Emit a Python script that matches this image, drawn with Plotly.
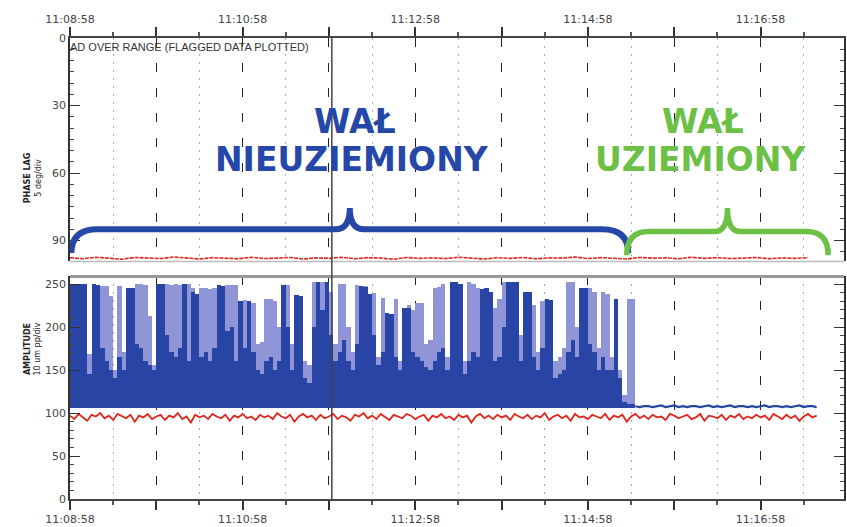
import plotly.graph_objects as go

# ---------------- data ----------------
tick_label_secs = [0, 120, 240, 360, 480]
tick_labels = ["11:08:58", "11:10:58", "11:12:58", "11:14:58", "11:16:58"]

SLOT_S = 3          # amplitude envelope sample spacing (s)
AMP_FLOOR = 105     # lower edge of the filled amplitude envelope

# dark (dense) part of the ungrounded-shaft amplitude, per 3 s slot
amp_dark = [
    250, 250, 250, 250, 145, 250, 248, 175, 160, 150, 140, 165, 150, 245, 245, 180, 175, 160, 155, 150,
    250, 250, 190, 170, 165, 175, 250, 160, 240, 238, 165, 170, 160, 175, 248, 247, 195, 200, 160, 230,
    175, 230, 170, 150, 145, 160, 165, 150, 160, 248, 200, 150, 237, 236, 140, 135, 200, 252, 220, 252,
    190, 160, 170, 185, 160, 150, 180, 247, 246, 238, 190, 155, 170, 216, 215, 165, 150, 222, 222, 170,
    165, 160, 153, 150, 160, 170, 175, 150, 252, 252, 250, 145, 160, 170, 165, 244, 245, 240, 160, 165,
    200, 252, 252, 252, 160, 240, 240, 165, 150, 175, 232, 231, 140, 145, 150, 170, 185, 165, 245, 245,
    180, 170, 150, 165, 150, 150, 232, 140, 112, 110, 110,
]
# lighter (sparser) peaks of the same signal
amp_light = [
    250, 250, 250, 250, 168, 250, 248, 247, 247, 236, 150, 247, 170, 245, 245, 250, 250, 248, 212, 155,
    250, 250, 250, 248, 250, 248, 250, 250, 245, 238, 245, 245, 244, 245, 248, 247, 248, 248, 248, 230,
    231, 230, 228, 180, 182, 232, 232, 230, 200, 248, 248, 180, 237, 236, 160, 155, 252, 252, 252, 252,
    240, 180, 250, 250, 200, 170, 248, 247, 247, 238, 239, 165, 233, 216, 215, 232, 160, 222, 225, 220,
    228, 228, 180, 185, 245, 246, 250, 165, 252, 252, 250, 160, 252, 250, 245, 244, 245, 240, 222, 232,
    252, 252, 252, 252, 190, 240, 240, 225, 170, 230, 232, 231, 160, 165, 175, 252, 252, 200, 245, 245,
    245, 240, 175, 240, 238, 165, 232, 150, 120, 232, 232,
]
# amplitude after the shaft was grounded (3 s spacing, continues after envelope)
amp_grounded = [
    108, 107, 108, 108, 107, 108, 109, 107, 108, 109, 107, 108, 107, 108, 108, 107, 108, 109, 107, 108,
    107, 108, 109, 107, 108, 108, 107, 108, 107, 108, 109, 107, 108, 108, 107, 108, 107, 108, 109, 107,
    108, 108, 107,
]
# red amplitude trace (3 s spacing)
amp_red = [
    97, 93, 99, 95, 91, 98, 96, 100, 94, 97, 92, 99, 96, 94, 98, 90, 97, 95, 99, 93,
    96, 98, 92, 97, 95, 100, 93, 96, 89, 98, 95, 97, 93, 99, 96, 94, 98, 91, 97, 95,
    99, 94, 96, 92, 98, 95, 97, 93, 100, 96, 94, 98, 90, 96, 99, 95, 97, 92, 98, 94,
    96, 99, 93, 97, 95, 91, 98, 96, 100, 94, 97, 93, 99, 95, 92, 98, 96, 94, 99, 97,
    93, 96, 98, 91, 97, 95, 99, 94, 96, 92, 98, 95, 97, 89, 96, 99, 94, 97, 93, 98,
    95, 97, 92, 99, 96, 94, 98, 93, 97, 95, 100, 92, 96, 98, 94, 97, 91, 99, 95, 96,
    93, 98, 96, 94, 99, 92, 97, 95, 98, 90, 96, 99, 94, 97, 93, 98, 95, 96, 92, 99,
    97, 94, 96, 98, 93, 95, 99, 91, 97, 96, 94, 98, 92, 97, 95, 99, 93, 96, 94, 98,
    95, 97, 92, 99, 96, 93, 98, 94, 97, 91, 96, 99, 95, 97,
]
# red phase-lag trace (9 s spacing)
PHASE_STEP_S = 9
phase_red = [
    97.6, 98.1, 97.4, 97.9, 98.3, 97.5, 97.8, 98.0, 97.3, 97.9, 98.2, 97.6, 97.7, 98.1, 97.4,
    98.0, 97.8, 97.5, 98.2, 97.7, 97.9, 97.4, 98.1, 97.6, 97.8, 98.3, 97.5, 97.9, 97.7, 98.0,
    97.4, 97.8, 98.2, 97.6, 97.9, 97.5, 98.1, 97.7, 97.8, 97.3, 98.0, 97.6, 97.9, 98.2, 97.5,
    97.8, 97.7, 98.1, 97.4, 97.9, 97.6, 98.0, 97.8, 97.5, 98.1, 97.7, 97.9, 97.6,
]
cursor_sec = 182
brace_spans = {"ungrounded": (1, 388), "grounded": (387, 527)}

# ---------------- styling ----------------
DARK_BLUE = "#2845a6"
LIGHT_BLUE = "#8f95d6"
RED = "#e0261c"
TXT_BLUE = "#2447a8"
GREEN = "#6cc046"
FONT = "DejaVu Sans"

fig = go.Figure()

slot_x = [SLOT_S * k + SLOT_S / 2 for k in range(len(amp_dark))]
fig.add_trace(go.Bar(x=slot_x, y=[v - AMP_FLOOR for v in amp_light], base=AMP_FLOOR,
                     width=SLOT_S, marker=dict(color=LIGHT_BLUE, line=dict(width=0)),
                     xaxis="x", yaxis="y", showlegend=False))
fig.add_trace(go.Bar(x=slot_x, y=[v - AMP_FLOOR for v in amp_dark], base=AMP_FLOOR,
                     width=SLOT_S, marker=dict(color=DARK_BLUE, line=dict(width=0)),
                     xaxis="x", yaxis="y", showlegend=False))
g_start = SLOT_S * len(amp_dark)
fig.add_trace(go.Scatter(x=[g_start + SLOT_S * i for i in range(len(amp_grounded))], y=amp_grounded,
                         mode="lines", line=dict(color=DARK_BLUE, width=2.2),
                         xaxis="x", yaxis="y", showlegend=False))
fig.add_trace(go.Scatter(x=[SLOT_S * i for i in range(len(amp_red))], y=amp_red,
                         mode="lines", line=dict(color=RED, width=1.8),
                         xaxis="x", yaxis="y", showlegend=False))
fig.add_trace(go.Scatter(x=[PHASE_STEP_S * i for i in range(len(phase_red))], y=phase_red,
                         mode="lines", line=dict(color=RED, width=1.6, dash="4px,1px"),
                         xaxis="x2", yaxis="y2", showlegend=False))

major_secs = list(range(0, 481, 60))
major_text = [tick_labels[tick_label_secs.index(s)] if s in tick_label_secs else "" for s in major_secs]

xcommon = dict(range=[0, 538], tickmode="array", tickvals=major_secs, ticktext=major_text,
               ticks="outside", ticklen=9, tickwidth=1.5, tickcolor="#333",
               showline=True, linecolor="#444", linewidth=1.6,
               showgrid=True, gridcolor="#222", gridwidth=1.3, griddash="9px,16px",
               minor=dict(tickmode="linear", tick0=30, dtick=60, ticks="outside", ticklen=4,
                          tickcolor="#555", showgrid=True, gridcolor="#aaa", gridwidth=1,
                          griddash="2px,6px"),
               zeroline=False, tickfont=dict(family=FONT, size=11, color="#444"))

ycommon = dict(ticks="inside", ticklen=10, tickwidth=1.3, tickcolor="#333",
               showline=True, linecolor="#333", linewidth=1.5, mirror="ticks",
               showgrid=False, zeroline=False,
               tickfont=dict(family=FONT, size=11, color="#444"))

fig.update_layout(
    width=847, height=527,
    margin=dict(l=70, r=1, t=38, b=27),
    paper_bgcolor="white", plot_bgcolor="white",
    barmode="overlay", bargap=0,
    xaxis=dict(anchor="y", domain=[0, 1], **xcommon),
    xaxis2=dict(anchor="y2", domain=[0, 1], side="top", matches="x", **xcommon),
    yaxis=dict(anchor="x", domain=[0, 0.4827], range=[0, 259], tickvals=[0, 50, 100, 150, 200, 250],
               minor=dict(tickmode="linear", tick0=0, dtick=10, ticks="inside", ticklen=4, tickcolor="#444"),
               **ycommon),
    yaxis2=dict(anchor="x2", domain=[0.5152, 1], range=[99.3, 0], tickvals=[0, 30, 60, 90],
                minor=dict(tickmode="linear", tick0=0, dtick=5, ticks="inside", ticklen=4, tickcolor="#444"),
                **ycommon),
)

# panel borders and cursor
fig.add_shape(type="line", xref="paper", yref="y domain", x0=0, x1=1, y0=1, y1=1,
              line=dict(color="#999", width=3))
fig.add_shape(type="line", xref="paper", yref="y2 domain", x0=0, x1=1, y0=0, y1=0,
              line=dict(color="#bbb", width=1.5), layer="below")
fig.add_shape(type="line", xref="x", yref="paper", x0=cursor_sec, x1=cursor_sec, y0=0, y1=1,
              line=dict(color="#444", width=1.5))


def brace_path(xa, xb, y_end, y_bar, y_tip, r_end, r_tip):
    xm = (xa + xb) / 2
    return (f"M {xa},{y_end} Q {xa},{y_bar} {xa + r_end},{y_bar} L {xm - r_tip},{y_bar} "
            f"Q {xm},{y_bar} {xm},{y_tip} Q {xm},{y_bar} {xm + r_tip},{y_bar} "
            f"L {xb - r_end},{y_bar} Q {xb},{y_bar} {xb},{y_end}")


xa, xb = brace_spans["ungrounded"]
fig.add_shape(type="path", xref="x2", yref="y2",
              path=brace_path(xa, xb, 95.5, 85, 75.5, 18, 10),
              line=dict(color=TXT_BLUE, width=6))
xa, xb = brace_spans["grounded"]
fig.add_shape(type="path", xref="x2", yref="y2",
              path=brace_path(xa, xb, 96.5, 86, 75.5, 15, 9),
              line=dict(color=GREEN, width=5.5))

big = dict(family=FONT, size=33, weight="bold")
fig.add_annotation(text="WAŁ", xref="x2", yref="y2", x=198, y=37,
                   showarrow=False, font=dict(color=TXT_BLUE, **big))
fig.add_annotation(text="NIEUZIEMIONY", xref="x2", yref="y2", x=196, y=54,
                   showarrow=False, font=dict(color=TXT_BLUE, **big))
fig.add_annotation(text="WAŁ", xref="x2", yref="y2", x=440, y=37,
                   showarrow=False, font=dict(color=GREEN, **big))
fig.add_annotation(text="UZIEMIONY", xref="x2", yref="y2", x=438, y=54,
                   showarrow=False, font=dict(color=GREEN, **big))

fig.add_annotation(text="AD OVER RANGE (FLAGGED DATA PLOTTED)", xref="paper", yref="paper",
                   x=-0.003, y=0.9805, xanchor="left", yanchor="middle", showarrow=False,
                   font=dict(family="Liberation Sans", size=11, color="#333"))
fig.add_annotation(text="<b>PHASE LAG</b><br>5 deg/div", xref="paper", yref="paper",
                   x=-0.063, y=0.757, textangle=-90, showarrow=False,
                   font=dict(family=FONT, size=8, color="#222"))
fig.add_annotation(text="<b>AMPLITUDE</b><br>10 um pp/div", xref="paper", yref="paper",
                   x=-0.063, y=0.264, textangle=-90, showarrow=False,
                   font=dict(family=FONT, size=8, color="#222"))

fig.write_html("out.html")
